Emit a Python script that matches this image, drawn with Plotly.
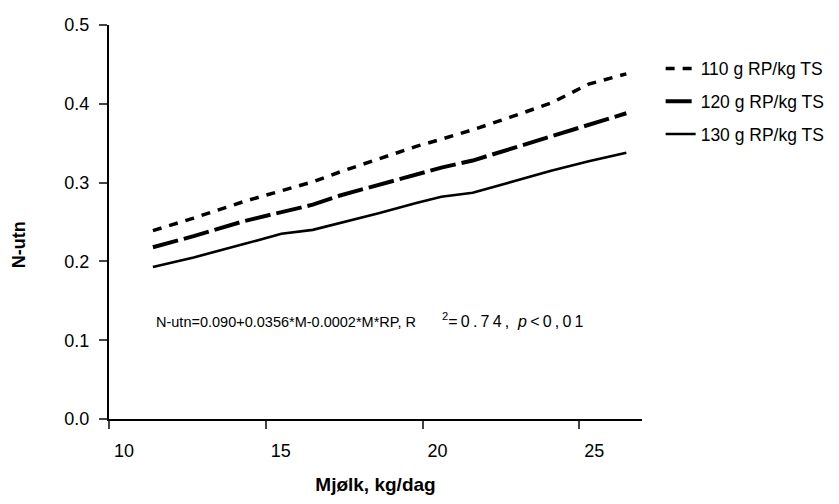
import plotly.graph_objects as go

milk = [11.4, 12.7, 14.3, 15.5, 16.5, 17.4, 18.6, 19.8, 20.6, 21.6, 22.8, 24.1, 25.3, 26.5]
rp110 = [0.239, 0.255, 0.276, 0.290, 0.301, 0.314, 0.330, 0.346, 0.355, 0.367, 0.383, 0.401, 0.425, 0.438]
rp120 = [0.218, 0.232, 0.251, 0.263, 0.272, 0.284, 0.297, 0.311, 0.319, 0.328, 0.343, 0.358, 0.373, 0.388]
rp130 = [0.193, 0.205, 0.222, 0.235, 0.240, 0.249, 0.261, 0.274, 0.282, 0.287, 0.300, 0.315, 0.327, 0.338]
names = ["110 g RP/kg TS", "120 g RP/kg TS", "130 g RP/kg TS"]
x_ticks = [10, 15, 20, 25]
y_ticks = [0.0, 0.1, 0.2, 0.3, 0.4, 0.5]
y_labels = ["0.0", "0.1", "0.2", "0.3", "0.4", "0.5"]
eq_left = "N-utn=0.090+0.0356*M-0.0002*M*RP, R"
eq_r2 = "=0.74,"
eq_p = "0,01"

FONT = "Liberation Sans, Arial, sans-serif"
SP = "\u2009"

fig = go.Figure()
styles = [
    dict(width=3.5, dash="9px,8px"),
    dict(width=4, dash="26px,6px"),
    dict(width=2.6, dash="solid"),
]
for name, ys, st, g in zip(names, [rp110, rp120, rp130], styles, ["a", "b", "c"]):
    fig.add_trace(go.Scatter(x=milk, y=ys, mode="lines", name=name, legendgroup=g,
                             line=dict(color="black", **st)))

fig.add_annotation(
    x=11.43, y=0.110, xref="x", yref="y", xanchor="left", yanchor="bottom", showarrow=False,
    text=eq_left, font=dict(family=FONT, size=14.5, color="black"),
)
right_text = ("<sup>2</sup>" + SP.join(eq_r2) + "\u00a0\u00a0<i>p</i>" + SP + "&lt;" + SP
              + SP.join(eq_p))
fig.add_annotation(
    x=20.55, y=0.110, xref="x", yref="y", xanchor="left", yanchor="bottom", showarrow=False,
    text=right_text, font=dict(family=FONT, size=16, color="black"),
)
fig.add_annotation(
    x=-0.17, y=0.221, xref="paper", yref="y", xanchor="center", yanchor="middle",
    showarrow=False, textangle=-90, text="<b>N-utn</b>",
    font=dict(family=FONT, size=18, color="black"),
)

fig.update_layout(
    width=831, height=496,
    margin=dict(l=100.5, r=197.3, t=17, b=85, autoexpand=False),
    plot_bgcolor="white", paper_bgcolor="white",
    font=dict(family=FONT, size=17, color="black"),
    showlegend=True,
    legend=dict(x=1.035, y=0.935, xanchor="left", yanchor="top", tracegroupgap=7,
                font=dict(family=FONT, size=17.5, color="black"), bgcolor="rgba(0,0,0,0)"),
    xaxis=dict(range=[10, 27], tickvals=x_ticks, ticks="outside", ticklen=8, tickwidth=2,
               showline=True, linewidth=2, linecolor="black", showgrid=False, zeroline=False,
               tickfont=dict(family=FONT, size=18), ticklabelshift=15, ticklabelstandoff=6,
               title=dict(text="<b>Mjølk, kg/dag</b>", font=dict(family=FONT, size=19), standoff=18)),
    yaxis=dict(range=[0, 0.5], tickvals=y_ticks, ticktext=y_labels, ticks="outside", ticklen=8,
               tickwidth=2, showline=True, linewidth=2, linecolor="black", showgrid=False,
               zeroline=False, tickfont=dict(family=FONT, size=18), ticklabelstandoff=6),
)

fig.write_html("out.html")
